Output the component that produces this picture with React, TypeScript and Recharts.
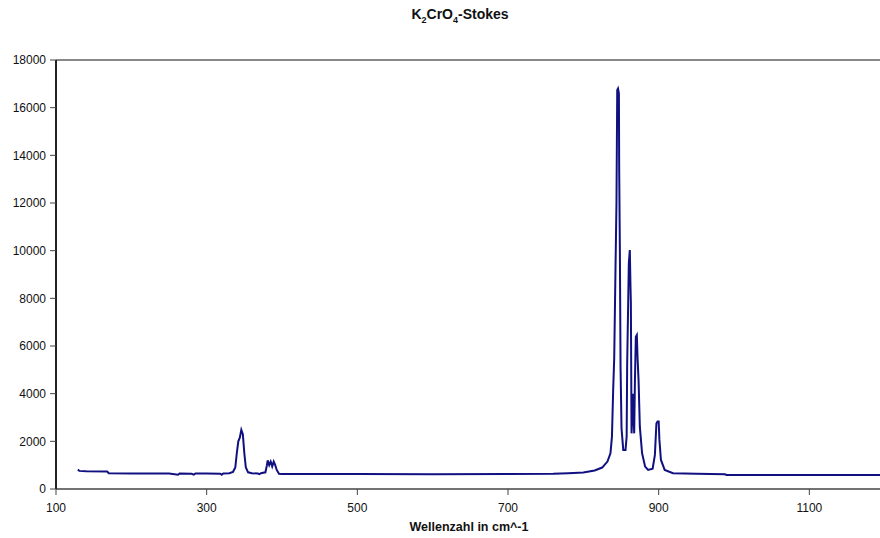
import { LineChart, Line, XAxis, YAxis, ReferenceLine } from 'recharts';

// Raman spectrum K2CrO4 (Stokes)
const wavenumbers = [
  129, 131, 140, 168, 170, 200, 250, 262, 264, 280, 283, 285, 300, 318, 320, 322,
  330, 335, 338, 340, 342, 344, 346, 348, 350, 352, 355, 360, 368, 370, 372, 378,
  380, 381, 383, 385, 387, 389, 391, 393, 396, 400, 500, 600, 700, 760, 780, 800,
  815, 825, 832, 836, 838, 839.6, 841, 842.8, 844, 845, 846, 847.2, 847.6, 848.5,
  849.4, 850.7, 853, 856, 857.5, 858.2, 860.4, 861.7, 862.6, 863.1, 864, 865, 866.1,
  867.5, 868.5, 869.7, 871, 872, 873.3, 875, 878, 882, 886, 892, 895, 897, 898.5,
  900, 901, 903, 908, 919, 950, 988, 990, 1100, 1200,
];

const intensities = [
  820, 760, 740, 730, 660, 650, 650, 600, 650, 640, 600, 650, 650, 640, 600, 650,
  660, 720, 900, 1500, 2000, 2150, 2480, 2300, 1500, 900, 700, 660, 650, 620, 660, 700,
  1000, 1200, 1000, 1150, 950, 1150, 1000, 800, 640, 630, 625, 620, 630, 640, 660, 690,
  780, 900, 1150, 1500, 2200, 4150, 5500, 9480, 12000, 16740, 16800, 16600, 13400, 10030,
  5130, 2545, 1640, 1640, 2200, 5270, 9470, 10030, 8500, 7790, 2335, 3000, 4000,
  2335, 4570, 6390, 6460, 5500, 4570, 2615, 1500, 940, 800, 850, 1430, 2750, 2830,
  2830, 2060, 1220, 800, 660, 640, 620, 590, 590, 590,
];

const xTicks = [100, 300, 500, 700, 900, 1100];
const yTicks = [0, 2000, 4000, 6000, 8000, 10000, 12000, 14000, 16000, 18000];

const data = wavenumbers.map((w, i) => ({ w, v: intensities[i] }));

const FONT = '"Liberation Sans", Arial, sans-serif';
const tickStyle = { fill: '#111', fontSize: 12, fontFamily: FONT };

export default function App() {
  return (
    <div
      style={{
        position: 'fixed',
        left: 0,
        top: 0,
        width: 880,
        height: 538,
        overflow: 'hidden',
        background: '#fff',
        fontFamily: FONT,
      }}
    >
      <div
        style={{
          position: 'absolute',
          left: 360,
          width: 200,
          top: 6,
          textAlign: 'center',
          fontSize: 14,
          fontWeight: 700,
          color: '#111',
        }}
      >
        K<sub style={{ fontSize: 9 }}>2</sub>CrO<sub style={{ fontSize: 9 }}>4</sub>-Stokes
      </div>
      <div
        style={{
          position: 'absolute',
          left: 369,
          width: 200,
          top: 520,
          textAlign: 'center',
          fontSize: 12.5,
          fontWeight: 700,
          color: '#111',
        }}
      >
        Wellenzahl in cm^-1
      </div>
      <LineChart
        width={1000}
        height={538}
        data={data}
        margin={{ top: 60, right: 40, left: 0, bottom: 19 }}
        style={{ position: 'absolute', left: 0, top: 0 }}
      >
        <XAxis
          type="number"
          dataKey="w"
          domain={[100, 1300]}
          ticks={xTicks}
          interval={0}
          height={30}
          tick={tickStyle}
          tickSize={6}
          tickMargin={8}
          axisLine={{ stroke: '#444', strokeWidth: 1.5 }}
          tickLine={{ stroke: '#444' }}
        />
        <YAxis
          type="number"
          domain={[0, 18000]}
          ticks={yTicks}
          interval={0}
          width={56}
          tick={tickStyle}
          tickSize={6}
          tickMargin={4}
          axisLine={{ stroke: '#222', strokeWidth: 2 }}
          tickLine={{ stroke: '#444' }}
        />
        <ReferenceLine y={18000} stroke="#888" strokeWidth={2} />
        <Line
          type="linear"
          dataKey="v"
          stroke="#101080"
          strokeWidth={2}
          dot={false}
          isAnimationActive={false}
        />
      </LineChart>
    </div>
  );
}
